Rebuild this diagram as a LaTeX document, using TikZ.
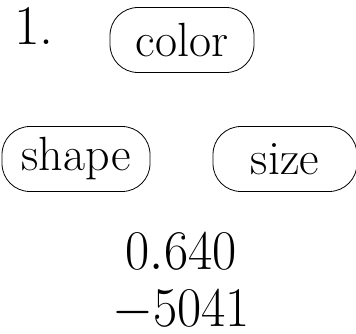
\documentclass[tikz,border=0pt]{standalone}
\usepackage{fix-cm}
\begin{document}
\begin{tikzpicture}[x=1pt,y=1pt,
  pill/.style={draw, line width=0.8pt, rectangle, rounded corners=28pt,
    inner sep=0pt, minimum height=65pt, font=\fontsize{48}{56}\selectfont},
  numtext/.style={inner sep=0pt, anchor=base, font=\fontsize{56}{60}\selectfont}]
\useasboundingbox (0,0) rectangle (356,-333);
\node[numtext, anchor=base west] (num) at (14,-44) {1.};
\node[pill, minimum width=144pt] (color) at (182,-40) {color};
\node[pill, minimum width=148pt] (shape) at (76,-159) {shape};
\node[pill, minimum width=144pt] (size) at (285,-159) {size};
\node[numtext] (a) at (181,-269) {\scalebox{0.94}[1]{$0.640$}};
\node[numtext] (b) at (181,-326) {\scalebox{0.94}[1]{$-5041$}};
\end{tikzpicture}
\end{document}
